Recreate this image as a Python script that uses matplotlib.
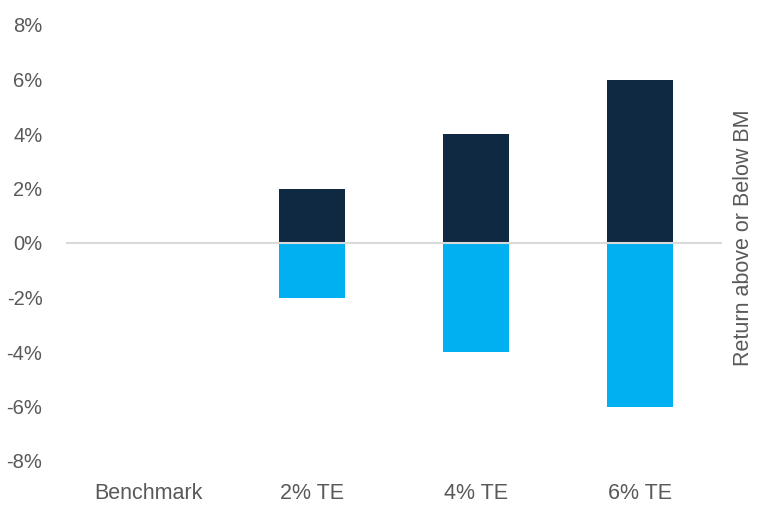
import numpy as np
import matplotlib.pyplot as plt
from matplotlib.ticker import FuncFormatter

categories = ["Benchmark", "2% TE", "4% TE", "6% TE"]
upside = [0, 2, 4, 6]
downside = [0, -2, -4, -6]
yticks = [-8, -6, -4, -2, 0, 2, 4, 6, 8]

plt.rcParams['font.family'] = ['Liberation Sans', 'DejaVu Sans']
txt = '#595959'

fig = plt.figure(figsize=(7.73, 5.21), dpi=100)
ax = fig.add_axes([66/773, 1 - 461/521, (722 - 66)/773, (461 - 25)/521])

x = np.arange(len(categories))
ax.bar(x, upside, width=0.4, color='#0F2942', zorder=2)
ax.bar(x, downside, width=0.4, color='#00B0F0', zorder=2)
ax.axhline(0, color='#D9D9D9', lw=1.5, zorder=3)

ax.set_xlim(-0.5, len(categories) - 0.5)
ax.set_ylim(-8, 8)
ax.set_yticks(yticks)
ax.yaxis.set_major_formatter(FuncFormatter(lambda v, p: f"{v:.0f}%"))
ax.set_xticks(x)
ax.set_xticklabels(categories)
ax.tick_params(length=0, labelcolor=txt)
ax.tick_params(axis='x', pad=16, labelsize=15.5)
ax.tick_params(axis='y', pad=17, labelsize=14.5)
for s in ax.spines.values():
    s.set_visible(False)

# right-hand axis title
ax.text(1.033, 0.513, 'Return above or Below BM', transform=ax.transAxes,
        rotation=90, ha='center', va='center', fontsize=15.5, color=txt)

plt.savefig('out.png')
